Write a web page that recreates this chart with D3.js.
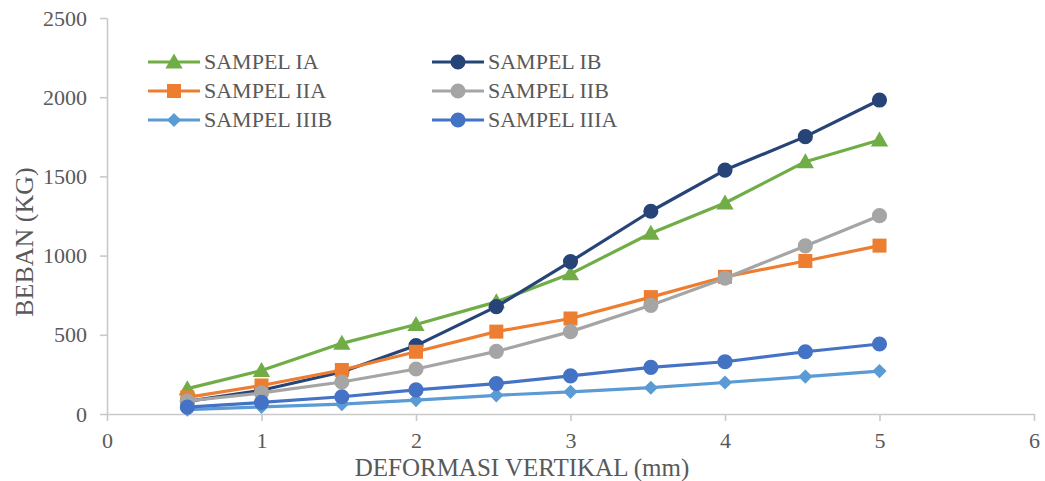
<!DOCTYPE html>
<html>
<head>
<meta charset="utf-8">
<script src="https://cdn.jsdelivr.net/npm/d3@7"></script>
<style>
  html, body { margin: 0; padding: 0; background: #fff; }
  svg { display: block; font-family: "Liberation Serif", "Times New Roman", serif; }
</style>
</head>
<body>
<svg id="chart" width="1045" height="481"></svg>
<script>
// Deformation (mm) at each load reading
const deformasi = [0.52, 1, 1.52, 2, 2.52, 3, 3.52, 4, 4.52, 5];

// Load (kg) per sample
const sampelIA   = [160, 275, 446, 565, 708, 885, 1141, 1332, 1593, 1730];
const sampelIB   = [80, 150, 265, 432, 678, 962, 1280, 1540, 1751, 1982];
const sampelIIA  = [105, 180, 278, 393, 520, 603, 738, 866, 966, 1063];
const sampelIIB  = [82, 133, 202, 284, 395, 520, 686, 857, 1061, 1252];
const sampelIIIB = [28, 45, 62, 88, 118, 140, 166, 199, 236, 271];
const sampelIIIA = [44, 73, 109, 152, 192, 241, 294, 330, 393, 442];

const seriesNames = ["SAMPEL IA", "SAMPEL IB", "SAMPEL IIA", "SAMPEL IIB", "SAMPEL IIIB", "SAMPEL IIIA"];
const seriesValues = [sampelIA, sampelIB, sampelIIA, sampelIIB, sampelIIIB, sampelIIIA];

const xTicks = [0, 1, 2, 3, 4, 5, 6];
const yTicks = [0, 500, 1000, 1500, 2000, 2500];

const styles = [
  { color: "#70ad47", marker: "triangle" },
  { color: "#264478", marker: "circle" },
  { color: "#ed7d31", marker: "square" },
  { color: "#a5a5a5", marker: "circle" },
  { color: "#5b9bd5", marker: "diamond" },
  { color: "#4472c4", marker: "circle" }
];

const svg = d3.select("#chart");
const x = d3.scaleLinear().domain([0, 6]).range([107, 1034]);
const y = d3.scaleLinear().domain([0, 2500]).range([414, 18]);

const axisColor = "#c9c9c9";
const textColor = "#595959";

// Axes
const gx = svg.append("g")
  .attr("transform", `translate(0,${y(0)})`)
  .call(d3.axisBottom(x).tickValues(xTicks).tickFormat(d3.format("d")).tickSize(7).tickPadding(11).tickSizeOuter(0));
const gy = svg.append("g")
  .attr("transform", `translate(${x(0)},0)`)
  .call(d3.axisLeft(y).tickValues(yTicks).tickFormat(d3.format("d")).tickSize(7).tickPadding(13).tickSizeOuter(0));

[gx, gy].forEach(g => {
  g.select(".domain").attr("stroke", axisColor).attr("stroke-width", 1.6);
  g.selectAll(".tick line").attr("stroke", axisColor).attr("stroke-width", 1.6);
  g.selectAll(".tick text")
    .attr("fill", textColor)
    .style("font-family", "'Liberation Serif', 'Times New Roman', serif")
    .style("font-size", "22px");
});

// Axis titles
svg.append("text")
  .attr("x", 522).attr("y", 476)
  .attr("text-anchor", "middle")
  .attr("fill", textColor)
  .style("font-size", "25px")
  .text("DEFORMASI VERTIKAL (mm)");

svg.append("text")
  .attr("transform", "translate(33,242) rotate(-90)")
  .attr("text-anchor", "middle")
  .attr("fill", textColor)
  .style("font-size", "26px")
  .text("BEBAN (KG)");

// Marker shapes
function markerPath(type) {
  switch (type) {
    case "triangle": return d3.symbol(d3.symbolTriangle, 130)();
    case "square": return d3.symbol(d3.symbolSquare, 196)();
    case "diamond": return d3.symbol(d3.symbolSquare, 100)();
    default: return d3.symbol(d3.symbolCircle, 180)();
  }
}
function markerTransform(type, px, py) {
  if (type === "diamond") return `translate(${px},${py}) rotate(45)`;
  if (type === "triangle") return `translate(${px},${py + 1.5})`;
  return `translate(${px},${py})`;
}

const line = d3.line().x(d => x(d[0])).y(d => y(d[1]));

seriesValues.forEach((vals, i) => {
  const st = styles[i];
  const pts = deformasi.map((d, j) => [d, vals[j]]);
  const g = svg.append("g").attr("class", "series");
  g.append("path")
    .datum(pts)
    .attr("d", line)
    .attr("fill", "none")
    .attr("stroke", st.color)
    .attr("stroke-width", 3.2)
    .attr("stroke-linejoin", "round");
  g.selectAll("path.marker")
    .data(pts)
    .join("path")
    .attr("class", "marker")
    .attr("d", markerPath(st.marker))
    .attr("transform", d => markerTransform(st.marker, x(d[0]), y(d[1])))
    .attr("fill", st.color);
});

// Legend: two columns, filled row by row
const legendCols = [148, 432];
const legendRows = [62, 91, 120];
seriesNames.forEach((name, i) => {
  const st = styles[i];
  const lx = legendCols[i % 2];
  const ly = legendRows[Math.floor(i / 2)];
  const g = svg.append("g");
  g.append("line")
    .attr("x1", lx).attr("x2", lx + 52)
    .attr("y1", ly).attr("y2", ly)
    .attr("stroke", st.color).attr("stroke-width", 3.2);
  g.append("path")
    .attr("d", markerPath(st.marker))
    .attr("transform", markerTransform(st.marker, lx + 26, ly))
    .attr("fill", st.color);
  g.append("text")
    .attr("x", lx + 56).attr("y", ly)
    .attr("dy", "0.34em")
    .attr("fill", textColor)
    .style("font-size", "22px")
    .text(name);
});
</script>
</body>
</html>
